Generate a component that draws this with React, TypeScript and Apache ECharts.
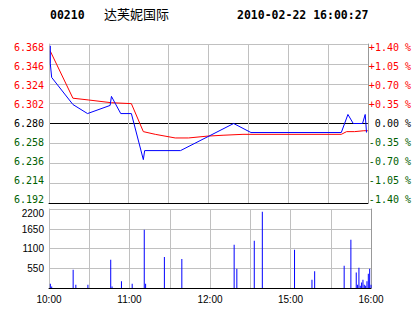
import React, { useEffect, useRef } from "react";
import * as echarts from "echarts";

const STOCK_CODE = "00210";
const STOCK_NAME = "达芙妮国际";
const STAMP = "2010-02-22 16:00:27";
const PREV_CLOSE = 6.28;

// minutes since 10:00 (HK session: 10:00-12:30, 14:30-16:00 = 240 min)
const TIME_LABELS: Record<number, string> = { 0: "10:00", 60: "11:00", 120: "12:00", 180: "15:00", 240: "16:00" };

const priceMinutes = [1, 1, 2, 18, 29, 46, 47, 54, 62, 71, 72, 99, 139, 152, 220, 225, 229, 236, 238, 239];
const priceValues = [6.366, 6.346, 6.331, 6.301, 6.291, 6.300, 6.310, 6.291, 6.291, 6.240, 6.250, 6.250, 6.280, 6.270, 6.270, 6.290, 6.280, 6.280, 6.290, 6.270];

const avgMinutes = [1, 18, 30, 47, 62, 71, 80, 95, 105, 119, 131, 146, 220, 224, 230, 237, 240];
const avgValues = [6.360, 6.308, 6.306, 6.303, 6.302, 6.271, 6.268, 6.264, 6.264, 6.266, 6.267, 6.268, 6.268, 6.271, 6.271, 6.272, 6.272];

const volMinutes = [1, 2, 18, 20, 29, 46, 47, 54, 62, 71, 72, 86, 99, 138, 140, 153, 159, 183, 196, 198, 220, 225, 229, 230, 231, 232, 233, 234, 235, 236, 237, 238, 239, 240];
const volValues = [120, 40, 510, 90, 90, 790, 40, 185, 120, 1620, 120, 860, 805, 1205, 535, 1315, 2125, 1065, 230, 465, 620, 1345, 435, 90, 565, 60, 150, 230, 90, 60, 185, 400, 535, 90];

const RED = "#ff0000";
const GREEN = "#006000";
const GRID = "#c0c0c0";
const MONO = "DejaVu Sans Mono";
const SANS = "Liberation Sans";

const toOffset = (p: number) => (p - PREV_CLOSE) * 1000;

// rich styles for the price-axis labels: labels sit slightly closer together than the grid lines
function priceRich(leftPadZero: number) {
  const rich: Record<string, any> = {};
  for (let k = 0; k <= 8; k++) {
    const off = -4 + k * 0.925;
    const color = k > 4 ? RED : k < 4 ? GREEN : "#000";
    const padding = off > 0 ? [2 * off, 0, 0, k === 4 ? leftPadZero : 0] : [0, 0, -2 * off, k === 4 ? leftPadZero : 0];
    rich["l" + k] = { fontFamily: MONO, fontSize: 10, color, padding };
  }
  return rich;
}

export default function App() {
  const ref = useRef<HTMLDivElement>(null);
  useEffect(() => {
    if (!ref.current) return;
    const chart = echarts.init(ref.current, undefined, { renderer: "svg" });
    const priceData = priceMinutes.map((m, i) => [m, toOffset(priceValues[i])]);
    const avgData = avgMinutes.map((m, i) => [m, toOffset(avgValues[i])]);
    const volData = volMinutes.map((m, i) => [m, volValues[i]]);
    const kOf = (v: number) => Math.round(v / 22) + 4;
    chart.setOption({
      animation: false,
      backgroundColor: "#ffffff",
      graphic: [
        { type: "text", left: 50, top: 9, style: { text: STOCK_CODE, fontFamily: MONO, fontWeight: "bold", fontSize: 11.5, fill: "#000" } },
        { type: "text", left: 104, top: 7, style: { text: STOCK_NAME, fontFamily: "Noto Sans CJK SC", fontSize: 13, fill: "#000" } },
        { type: "text", left: 237, top: 9, style: { text: STAMP, fontFamily: MONO, fontWeight: "bold", fontSize: 11.5, fill: "#000" } },
      ],
      grid: [
        { left: 49, top: 44, width: 322, height: 159 },
        { left: 49, top: 209, width: 322, height: 79 },
      ],
      xAxis: [
        {
          type: "value", gridIndex: 0, min: 0, max: 240, interval: 30,
          axisLine: { show: true, onZero: false, lineStyle: { color: "#000", width: 1 } },
          axisTick: { show: false }, axisLabel: { show: false },
          splitLine: { show: true, lineStyle: { color: GRID, width: 1 } },
        },
        {
          type: "value", gridIndex: 1, min: 0, max: 240, interval: 30,
          axisLine: { show: true, onZero: false, lineStyle: { color: "#000", width: 1 } },
          axisTick: { show: false },
          axisLabel: {
            show: true, margin: 6, fontFamily: SANS, fontSize: 10, color: "#000",
            showMinLabel: true, showMaxLabel: true,
            formatter: (v: number) => TIME_LABELS[Math.round(v)] ?? "",
          },
          splitLine: { show: true, lineStyle: { color: GRID, width: 1 } },
        },
      ],
      yAxis: [
        {
          type: "value", gridIndex: 0, min: -88, max: 88, interval: 22, position: "left",
          axisLine: { show: true, lineStyle: { color: GRID } }, axisTick: { show: false },
          splitLine: {
            show: true,
            lineStyle: { color: ["#000", GRID, GRID, GRID, "#000", GRID, GRID, GRID, GRID], width: 1 },
          },
          axisLabel: {
            margin: 5,
            formatter: (v: number) => `{l${kOf(v)}|${(PREV_CLOSE + v / 1000).toFixed(3)}}`,
            rich: priceRich(0),
          },
        },
        {
          type: "value", gridIndex: 0, min: -88, max: 88, interval: 22, position: "right",
          axisLine: { show: true, lineStyle: { color: "#999999" } }, axisTick: { show: false },
          splitLine: { show: false },
          axisLabel: {
            margin: 1,
            formatter: (v: number) => {
              const pct = v / 1000 / PREV_CLOSE * 100;
              const k = kOf(v);
              if (k === 4) return `{l4|0.00 %}`;
              const s = (pct > 0 ? "+" : "-") + Math.abs(pct).toFixed(2) + " %";
              return `{l${k}|${s}}`;
            },
            rich: priceRich(6),
          },
        },
        {
          type: "value", gridIndex: 1, min: 0, max: 2200, interval: 550, position: "left",
          axisLine: { show: true, lineStyle: { color: GRID } }, axisTick: { show: false },
          splitLine: { show: true, lineStyle: { color: GRID, width: 1 } },
          axisLabel: {
            margin: 5,
            formatter: (v: number) => {
              if (v === 0) return "";
              const k = Math.round(v / 550);
              return `{v${k}|${v}}`;
            },
            rich: {
              v1: { fontFamily: SANS, fontSize: 10, color: "#000" },
              v2: { fontFamily: SANS, fontSize: 10, color: "#000" },
              v3: { fontFamily: SANS, fontSize: 10, color: "#000", padding: [2, 0, 0, 0] },
              v4: { fontFamily: SANS, fontSize: 10, color: "#000", padding: [9, 0, 0, 0] },
            },
          },
        },
        {
          type: "value", gridIndex: 1, min: 0, max: 2200, interval: 550, position: "right",
          axisLine: { show: true, lineStyle: { color: "#999999" } }, axisTick: { show: false },
          splitLine: { show: false }, axisLabel: { show: false },
        },
      ],
      series: [
        {
          type: "line", xAxisIndex: 0, yAxisIndex: 0, data: avgData, showSymbol: false,
          lineStyle: { color: RED, width: 1 }, itemStyle: { color: RED }, z: 3,
        },
        {
          type: "line", xAxisIndex: 0, yAxisIndex: 0, data: priceData, showSymbol: false,
          lineStyle: { color: "#0000ff", width: 1 }, itemStyle: { color: "#0000ff" }, z: 4,
        },
        {
          type: "bar", xAxisIndex: 1, yAxisIndex: 2, data: volData, barWidth: 1,
          itemStyle: { color: "#0000ff" },
        },
      ],
    });
    return () => chart.dispose();
  }, []);
  return (
    <div
      ref={ref}
      style={{ position: "absolute", left: 0, top: 0, width: 414, height: 314, background: "#fff" }}
    />
  );
}
